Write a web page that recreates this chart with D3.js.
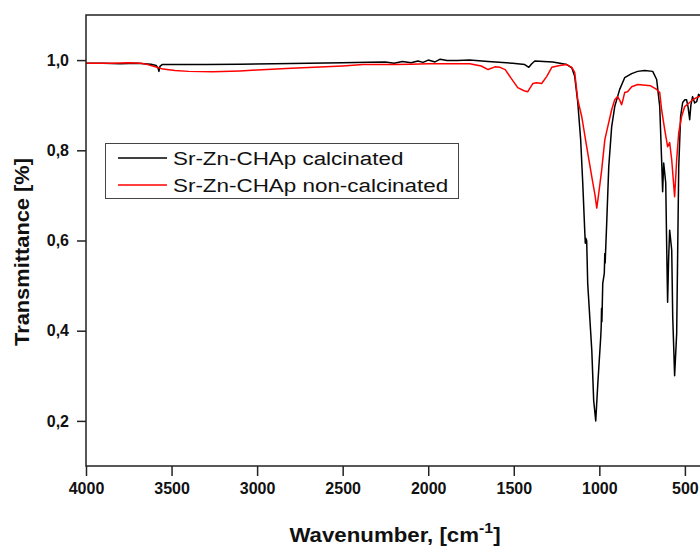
<!DOCTYPE html>
<html>
<head>
<meta charset="utf-8">
<title></title>
<style>
  body { margin: 0; background: #fff; }
  svg { display: block; }
</style>
</head>
<body>
<svg id="chart" xmlns="http://www.w3.org/2000/svg"></svg>

<script type="text/javascript" src="https://d3js.org/d3.v7.min.js"></script>
<script type="text/javascript">

const width = 700;
const height = 548;

// Sr-Zn-CHAp calcinated (wavenumber / transmittance)
const calcWn = [4000, 3900, 3800, 3700, 3620, 3590, 3578, 3574, 3568, 3555, 3450, 3300, 3100, 2900, 2700, 2500,
  2350, 2250, 2200, 2150, 2100, 2060, 2030, 2000, 1960, 1930, 1890, 1830, 1757, 1650, 1506, 1436, 1412, 1395,
  1377, 1272, 1190, 1161, 1144, 1126, 1109, 1097, 1085, 1082, 1079, 1074, 1068, 1044, 1033, 1021, 1009, 992,
  989, 987, 985, 980, 971, 968, 966, 957, 945, 928, 910, 881, 852, 811, 776, 735, 688, 665, 647, 636, 630,
  624, 612, 606, 601, 595, 589, 577, 571, 560, 548, 542, 536, 525, 513, 500, 490, 481, 472, 465, 455, 443,
  431, 420, 400];
const calcT = [0.993, 0.993, 0.992, 0.993, 0.991, 0.988, 0.982, 0.975, 0.986, 0.990, 0.990, 0.990, 0.991, 0.992,
  0.993, 0.994, 0.995, 0.996, 0.993, 0.997, 0.994, 0.998, 0.995, 1.000, 0.996, 1.002, 0.999, 0.999, 1.000,
  0.997, 0.993, 0.990, 0.984, 0.992, 0.998, 0.996, 0.990, 0.983, 0.964, 0.906, 0.823, 0.728, 0.619, 0.594,
  0.605, 0.600, 0.505, 0.356, 0.245, 0.200, 0.282, 0.385, 0.410, 0.450, 0.420, 0.505, 0.527, 0.571, 0.550,
  0.638, 0.763, 0.852, 0.897, 0.935, 0.961, 0.970, 0.975, 0.977, 0.975, 0.957, 0.897, 0.779, 0.708, 0.772,
  0.728, 0.579, 0.463, 0.560, 0.623, 0.579, 0.430, 0.300, 0.394, 0.579, 0.763, 0.875, 0.906, 0.912, 0.912,
  0.895, 0.868, 0.900, 0.919, 0.905, 0.908, 0.924, 0.918];

// Sr-Zn-CHAp non-calcinated
const nonCalcWn = [4000, 3850, 3750, 3680, 3640, 3600, 3550, 3480, 3400, 3260, 3100, 3000, 2800, 2600, 2500,
  2380, 2200, 2100, 2000, 1900, 1757, 1690, 1650, 1610, 1580, 1550, 1518, 1477, 1440, 1418, 1389, 1366, 1337,
  1307, 1278, 1231, 1190, 1161, 1144, 1126, 1103, 1074, 1044, 1025, 1015, 1005, 986, 968, 951, 928, 910, 893,
  882, 870, 860, 852, 835, 811, 776, 700, 665, 647, 636, 618, 601, 589, 577, 560, 548, 536, 519, 501, 472,
  455, 420, 400];
const nonCalcT = [0.993, 0.993, 0.994, 0.993, 0.990, 0.986, 0.980, 0.977, 0.975, 0.974, 0.976, 0.978, 0.982,
  0.985, 0.987, 0.990, 0.990, 0.991, 0.992, 0.992, 0.992, 0.987, 0.979, 0.985, 0.984, 0.979, 0.961, 0.939,
  0.932, 0.930, 0.948, 0.950, 0.948, 0.964, 0.984, 0.988, 0.990, 0.984, 0.973, 0.912, 0.875, 0.808, 0.741,
  0.700, 0.672, 0.700, 0.757, 0.823, 0.852, 0.890, 0.912, 0.919, 0.912, 0.901, 0.915, 0.928, 0.930, 0.941,
  0.946, 0.943, 0.935, 0.928, 0.890, 0.846, 0.808, 0.817, 0.779, 0.697, 0.779, 0.839, 0.875, 0.897, 0.906,
  0.912, 0.919, 0.920];

const xMajor = [4000, 3500, 3000, 2500, 2000, 1500, 1000, 500];
const xMinor = [3750, 3250, 2750, 2250, 1750, 1250, 750];
const yMajor = [0.2, 0.4, 0.6, 0.8, 1.0];
const yMinor = [0.1, 0.3, 0.5, 0.7, 0.9, 1.1];

const seriesNames = ["Sr-Zn-CHAp calcinated", "Sr-Zn-CHAp non-calcinated"];
const seriesColors = ["#000000", "#ff0000"];

const margin = {top: 15, left: 86, bottom: 82};
const plotRight = 702;

const x = d3.scaleLinear().domain([4000, 400]).range([margin.left, plotRight]);
const y = d3.scaleLinear().domain([0.1, 1.1]).range([height - margin.bottom, margin.top]);

const svg = d3.select('#chart')
    .attr("width", width)
    .attr("height", height)
    .attr("viewBox", `0 0 ${width} ${height}`);

const fontFam = "'Liberation Sans', Arial, sans-serif";
const fmt = d => d3.format(".1f")(d).replace(".", ",");

svg.append("defs").append("clipPath").attr("id", "plotclip")
  .append("rect")
    .attr("x", margin.left)
    .attr("y", margin.top)
    .attr("width", plotRight - margin.left)
    .attr("height", y(0.1) - margin.top);

// curves
const line = d3.line()
    .x(d => x(d[0]))
    .y(d => y(d[1]));

const series = [
  d3.zip(calcWn, calcT),
  d3.zip(nonCalcWn, nonCalcT)
];

svg.append("g")
    .attr("clip-path", "url(#plotclip)")
    .attr("fill", "none")
  .selectAll("path")
  .data(series)
  .join("path")
    .attr("d", line)
    .attr("stroke", (d, i) => seriesColors[i])
    .attr("stroke-width", 1.5)
    .attr("stroke-linejoin", "round");

// axes
const axisColor = "#222";

const gx = svg.append("g").attr("transform", `translate(0,${y(0.1)})`);
gx.call(d3.axisBottom(x).tickValues(xMinor).tickSize(5).tickFormat(""));
gx.call(d3.axisBottom(x).tickValues(xMajor).tickSize(10).tickPadding(7).tickFormat(d3.format("d")));

const gy = svg.append("g").attr("transform", `translate(${margin.left},0)`);
gy.call(d3.axisLeft(y).tickValues(yMinor).tickSize(5).tickFormat(""));
gy.call(d3.axisLeft(y).tickValues(yMajor).tickSize(9).tickPadding(8).tickFormat(fmt));

svg.selectAll(".domain").remove();
svg.selectAll(".tick line").attr("stroke", axisColor).attr("stroke-width", 1.5);
svg.selectAll(".tick text")
    .attr("fill", "#111")
    .style("font", `bold 16px ${fontFam}`);

// frame lines: left, bottom, top
svg.append("path")
    .attr("d", `M${plotRight + 10},${margin.top}H${margin.left}V${y(0.1)}H${plotRight + 10}`)
    .attr("fill", "none")
    .attr("stroke", axisColor)
    .attr("stroke-width", 1.5);

// axis titles
svg.append("text")
    .attr("transform", `translate(395,542) scale(1.06,1)`)
    .attr("text-anchor", "middle")
    .style("font", `bold 21px ${fontFam}`)
    .attr("fill", "#111")
    .call(t => {
      t.append("tspan").text("Wavenumber, [cm");
      t.append("tspan").attr("dy", -9).style("font-size", "15px").text("-1");
      t.append("tspan").attr("dy", 9).text("]");
    });

svg.append("text")
    .attr("transform", `translate(29,252) rotate(-90) scale(1.04,1)`)
    .attr("text-anchor", "middle")
    .style("font", `bold 21px ${fontFam}`)
    .attr("fill", "#111")
    .text("Transmittance [%]");

// legend
const legend = svg.append("g");
legend.append("rect")
    .attr("x", 105.5)
    .attr("y", 143.5)
    .attr("width", 353)
    .attr("height", 55)
    .attr("fill", "#fff")
    .attr("stroke", "#444")
    .attr("stroke-width", 1);

const rows = legend.selectAll("g.row")
  .data(seriesNames)
  .join("g")
    .attr("class", "row")
    .attr("transform", (d, i) => `translate(118,${158 + i * 27})`);

rows.append("line")
    .attr("x1", 0).attr("x2", 49)
    .attr("stroke", (d, i) => seriesColors[i])
    .attr("stroke-width", 1.5);

rows.append("text")
    .attr("transform", "translate(55,7) scale(1.18,1)")
    .style("font", `19px ${fontFam}`)
    .attr("fill", "#111")
    .text(d => d);

</script>
</body>
</html>
